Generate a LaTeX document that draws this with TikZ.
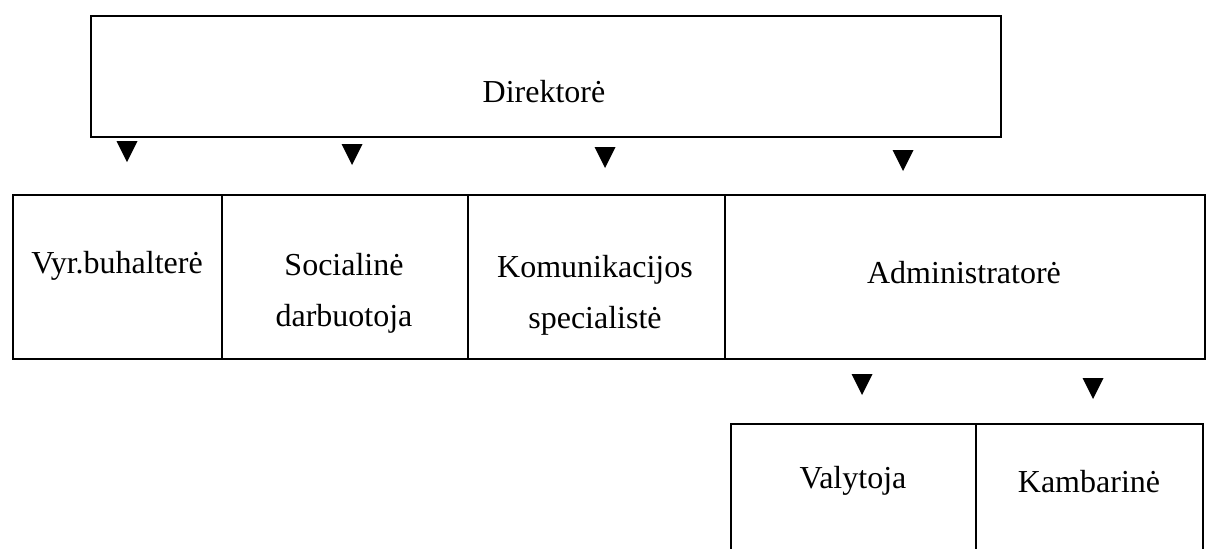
\documentclass[tikz,border=0pt]{standalone}
\usepackage{fontspec}
\setmainfont{Liberation Serif}
\begin{document}
\begin{tikzpicture}[x=1pt,y=-1pt,
  box/.style={draw, line width=1.8pt, rectangle, inner sep=0pt, anchor=north west},
  lbl/.style={anchor=base, align=center, inner sep=0pt, font=\fontsize{32}{51}\selectfont},
  tri/.style={fill=black}]
\useasboundingbox (0,0) rectangle (1211,549);
\clip (0,0) rectangle (1211,549);
% top box
\node[box, minimum width=910pt, minimum height=121pt] (dir) at (90,15) {};
% row
\node[box, minimum width=209pt, minimum height=164pt] (vyr) at (12,194) {};
\node[box, minimum width=246pt, minimum height=164pt] (soc) at (221,194) {};
\node[box, minimum width=257pt, minimum height=164pt] (kom) at (467,194) {};
\node[box, minimum width=480pt, minimum height=164pt] (adm) at (724,194) {};
% bottom row (cut off)
\node[box, minimum width=245pt, minimum height=160pt] (val) at (730,423) {};
\node[box, minimum width=227pt, minimum height=160pt] (kam) at (975,423) {};
% labels (base = baseline of last line)
\node[lbl] (tdir) at (544,102) {Direktorė};
\node[lbl] (tvyr) at (117,273) {Vyr.buhalterė};
\node[lbl] (tsoc) at (344,326) {Socialinė\\darbuotoja};
\node[lbl] (tkom) at (595,328) {Komunikacijos\\specialistė};
\node[lbl] (tadm) at (964,283) {Administratorė};
\node[lbl] (tval) at (853,488) {Valytoja};
\node[lbl] (tkam) at (1089,492) {Kambarinė};
% triangles
\foreach \x/\y in {127/141, 352/144, 605/147, 903/150, 862/374, 1093/378}
  \fill[tri] (\x-10.5,\y) -- (\x+10.5,\y) -- (\x,\y+21) -- cycle;
\end{tikzpicture}
\end{document}
